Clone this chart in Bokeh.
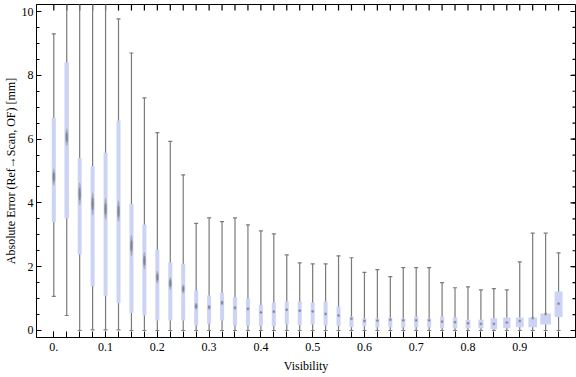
from bokeh.plotting import figure
from bokeh.models import Range1d, FixedTicker, ColumnDataSource
from bokeh.embed import file_html
from bokeh.resources import INLINE

# ---- data ----
visibility = [0.0, 0.025, 0.05, 0.075, 0.1, 0.125, 0.15, 0.175, 0.2, 0.225,
              0.25, 0.275, 0.3, 0.325, 0.35, 0.375, 0.4, 0.425, 0.45, 0.475,
              0.5, 0.525, 0.55, 0.575, 0.6, 0.625, 0.65, 0.675, 0.7, 0.725,
              0.75, 0.775, 0.8, 0.825, 0.85, 0.875, 0.9, 0.925, 0.95, 0.975]

whisker_low = [1.07, 0.47, 0.0, 0.02, 0.02, 0.02, 0.0, 0.0, 0.0, 0.0,
               0.0, 0.0, 0.0, 0.0, 0.0, 0.0, 0.0, 0.0, 0.0, 0.0,
               0.0, 0.0, 0.0, 0.0, 0.0, 0.0, 0.0, 0.0, 0.0, 0.0,
               0.0, 0.0, 0.0, 0.0, 0.0, 0.0, 0.0, 0.0, 0.0, 0.0]

q1 = [3.40, 3.52, 2.38, 1.39, 1.08, 0.86, 0.55, 0.47, 0.31, 0.31,
      0.31, 0.16, 0.21, 0.31, 0.16, 0.14, 0.15, 0.14, 0.19, 0.17,
      0.19, 0.16, 0.14, 0.10, 0.13, 0.10, 0.10, 0.10, 0.10, 0.10,
      0.08, 0.07, 0.07, 0.07, 0.04, 0.07, 0.10, 0.10, 0.19, 0.42]

median = [4.81, 6.06, 4.28, 3.97, 3.81, 3.74, 2.66, 2.19, 1.67, 1.48,
          1.30, 0.76, 0.73, 0.87, 0.71, 0.68, 0.57, 0.59, 0.65, 0.62,
          0.60, 0.52, 0.47, 0.37, 0.30, 0.31, 0.34, 0.32, 0.32, 0.32,
          0.28, 0.26, 0.23, 0.21, 0.21, 0.25, 0.30, 0.39, 0.52, 0.84]

q3 = [6.67, 8.40, 5.41, 5.16, 5.57, 6.58, 3.97, 3.32, 2.53, 2.14,
      2.09, 1.25, 1.10, 1.18, 1.04, 1.00, 0.80, 0.88, 0.91, 0.91,
      0.88, 0.91, 0.75, 0.44, 0.38, 0.38, 0.41, 0.38, 0.44, 0.38,
      0.44, 0.41, 0.34, 0.34, 0.38, 0.41, 0.41, 0.41, 0.53, 1.22]

whisker_high = [9.30, 10.9, 11.6, 11.3, 11.0, 9.77, 8.70, 7.29, 6.20, 5.93,
                4.88, 3.36, 3.53, 3.41, 3.53, 3.31, 3.12, 3.03, 2.37, 2.12,
                2.09, 2.09, 2.34, 2.28, 1.82, 1.91, 1.69, 1.97, 1.97, 1.97,
                1.50, 1.34, 1.37, 1.27, 1.31, 1.27, 2.15, 3.05, 3.05, 2.43]

# half-height of the median (notch) marker, in data units
median_spread = [0.27, 0.27, 0.36, 0.36, 0.34, 0.34, 0.34, 0.27, 0.20, 0.20,
                 0.14, 0.11, 0.08, 0.08, 0.06, 0.06, 0.05, 0.05, 0.05, 0.05,
                 0.05, 0.05, 0.05, 0.05, 0.05, 0.05, 0.05, 0.05, 0.05, 0.05,
                 0.05, 0.05, 0.05, 0.05, 0.05, 0.05, 0.05, 0.05, 0.05, 0.05]

# relative box widths
box_rel_width = [1.0, 1.15, 1.0, 1.0, 1.0, 1.0, 1.0, 1.0, 1.0, 1.0,
                 1.0, 1.0, 1.0, 1.0, 1.05, 1.0, 1.0, 1.0, 1.0, 1.0,
                 1.0, 1.0, 1.0, 1.0, 1.0, 1.0, 1.0, 1.05, 1.05, 1.0,
                 1.05, 1.15, 1.2, 1.3, 1.65, 1.8, 1.95, 2.15, 2.65, 2.0]

x_major = [0.0, 0.1, 0.2, 0.3, 0.4, 0.5, 0.6, 0.7, 0.8, 0.9]
x_labels = ["0.", "0.1", "0.2", "0.3", "0.4", "0.5", "0.6", "0.7", "0.8", "0.9"]
y_major = [0, 2, 4, 6, 8, 10]
y_labels = ["0", "2", "4", "6", "8", "10"]
y_minor = [i * 0.5 for i in range(21)]

# ---- layout ----
W, H = 576, 377
BL, BR, BT, BB = 36, 1, 4, 40
X0, X1 = -0.0334, 1.0077
Y0, Y1 = -0.22, 10.22
px_x = (W - BL - BR) / (X1 - X0)   # pixels per data unit (x)
px_y = (H - BT - BB) / (Y1 - Y0)   # pixels per data unit (y)

BASE_W = 4.0
src = ColumnDataSource(dict(
    x=visibility, lo=whisker_low, hi=whisker_high, q1=q1, q3=q3, med=median,
    mid=[(a + b) / 2 for a, b in zip(q1, q3)],
    h=[b - a for a, b in zip(q1, q3)],
    w=[r * BASE_W for r in box_rel_width],
    mh=[2 * s for s in median_spread],
    mh2=[1.1 * s for s in median_spread],
))

FONT = "Liberation Serif"

p = figure(width=W, height=H,
           x_range=Range1d(X0, X1), y_range=Range1d(Y0, Y1),
           output_backend="svg", toolbar_location=None,
           min_border_left=BL, min_border_right=BR,
           min_border_top=BT, min_border_bottom=BB)
p.xgrid.visible = False
p.ygrid.visible = False
p.outline_line_color = "black"
p.outline_line_alpha = 1.0
p.background_fill_color = "white"
p.border_fill_color = "white"

xt = FixedTicker(ticks=x_major, minor_ticks=visibility)
yt = FixedTicker(ticks=y_major, minor_ticks=y_minor)


def style(ax, is_x):
    ax.axis_line_color = "black"
    ax.major_tick_line_color = "black"
    ax.minor_tick_line_color = "black"
    ax.major_tick_out = 0
    ax.minor_tick_out = 0
    if is_x:
        ax.major_tick_in = 6
        ax.minor_tick_in = 6
    else:
        ax.major_tick_in = 5
        ax.minor_tick_in = 3
    ax.major_label_text_font = FONT
    ax.major_label_text_color = "black"
    ax.major_label_text_font_size = "12px"
    ax.axis_label_text_font = FONT
    ax.axis_label_text_font_style = "normal"
    ax.axis_label_text_font_size = "12px"
    ax.axis_label_text_color = "black"


xa = p.xaxis[0]
xa.ticker = xt
xa.major_label_overrides = {v: s for v, s in zip(x_major, x_labels)}
xa.axis_label = "Visibility"
xa.major_label_standoff = 5
xa.axis_label_standoff = 5
style(xa, True)

ya = p.yaxis[0]
ya.ticker = yt
ya.major_label_overrides = {v: s for v, s in zip(y_major, y_labels)}
ya.axis_label = "Absolute Error (Ref\u2192Scan, OF) [mm]"
ya.major_label_standoff = 3
ya.axis_label_standoff = 1
style(ya, False)

# frame ticks on the top and right edges (inward, no labels)
p.segment(x0=visibility, y0=[Y1] * len(visibility),
          x1=visibility, y1=[Y1 - 6 / px_y] * len(visibility),
          line_color="black", line_width=1.2)
p.segment(x0=[X1] * len(y_minor), y0=y_minor,
          x1=[X1 - 3 / px_x] * len(y_minor), y1=y_minor,
          line_color="black", line_width=1.2)
p.segment(x0=[X1] * len(y_major), y0=y_major,
          x1=[X1 - 5 / px_x] * len(y_major), y1=y_major,
          line_color="black", line_width=1.2)

GRAY = "#7a7a7a"
p.segment(x0="x", y0="lo", x1="x", y1="hi", source=src,
          line_color=GRAY, line_width=1.2)
p.scatter(x="x", y="hi", source=src, marker="dash", size=4,
          line_color=GRAY, line_width=1.2)
p.scatter(x="x", y="lo", source=src, marker="dash", size=4,
          line_color=GRAY, line_width=1.2)
p.rect(x="x", y="mid", width="w", height="h", width_units="screen", source=src,
       fill_color="#ccd3f5", line_color=None)
p.ellipse(x="x", y="med", width=3, height="mh", width_units="screen", source=src,
          fill_color="#6a6a6a", fill_alpha=0.35, line_color=None)
p.ellipse(x="x", y="med", width=2, height="mh2", width_units="screen", source=src,
          fill_color="#555555", fill_alpha=0.45, line_color=None)

open("out.html", "w").write(file_html(p, INLINE))
